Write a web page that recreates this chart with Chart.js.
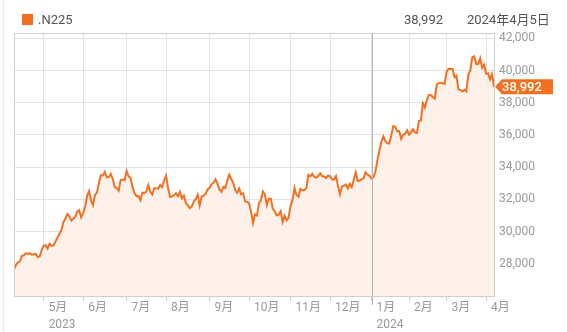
<!DOCTYPE html>
<html>
<head>
<meta charset="utf-8">
<script src="https://cdn.jsdelivr.net/npm/chart.js@4.4.1/dist/chart.umd.min.js"></script>
<style>
  html, body { margin: 0; padding: 0; background: #ffffff; }
  #wrap { position: relative; width: 567px; height: 332px; overflow: hidden; font-family: Roboto, "Noto Sans CJK JP", sans-serif; }
  #frame { position: absolute; left: 3px; top: 0; width: 0; height: 332px; border-left: 1px solid #ececec; }
  canvas { position: absolute; left: 0; top: 0; }
  .hdr { position: absolute; font-size: 13px; color: #555555; line-height: 16px; white-space: nowrap; }
  #sq { position: absolute; left: 22px; top: 14px; width: 11px; height: 11px; background: #f37021; }
</style>
</head>
<body>
<div id="wrap">
  <div id="frame"></div>
  <canvas id="c" width="567" height="332"></canvas>
  <div id="sq"></div>
  <div class="hdr" id="name" style="left:38px; top:12px;"></div>
  <div class="hdr" id="lastv" style="right:124px; top:12px;"></div>
  <div class="hdr" id="date" style="left:467px; top:12px;"></div>
</div>
<script>
// ---- data (trading-day closes) ----
const seriesName = '.N225';
const asOfDate = '2024年4月5日';
const apr2023 = [27633, 27923, 28082, 28157, 28493, 28515, 28658, 28606, 28657, 28564, 28593, 28620, 28416, 28457, 28856];
const may2023 = [29123, 29158, 28950, 29243, 29122, 29127, 29388, 29626, 29843, 30094, 30574, 30808, 31087, 30958, 30683, 30801, 30916, 31234, 31328, 30888];
const jun2023 = [31148, 31524, 32217, 32507, 31914, 31641, 32265, 32434, 33018, 33502, 33485, 33706, 33370, 33389, 33575, 33265, 32782, 32699, 32538, 33194, 33234, 33189];
const jul2023 = [33753, 33423, 33338, 32773, 32388, 32190, 32204, 31944, 32420, 32392, 32493, 32896, 32491, 32305, 32701, 32682, 32669, 32891, 32759, 33172];
const aug2023 = [33476, 32708, 32159, 32193, 32254, 32377, 32205, 32474, 32060, 32239, 31767, 31627, 31451, 31566, 31857, 32011, 32288, 31625, 32170, 32227, 32334, 32619];
const sep2023 = [32711, 32940, 33036, 33242, 32992, 32607, 32467, 32776, 32707, 33169, 33534, 33243, 33024, 32572, 32403, 32679, 32316, 32372, 31873, 31858];
const oct2023 = [31760, 31238, 30527, 31075, 30995, 31747, 31937, 32495, 32316, 31660, 32041, 32043, 31431, 31260, 30999, 31063, 31270, 30601, 30992, 30697, 30859];
const nov2023 = [31602, 31950, 32709, 32272, 32166, 32647, 32568, 32586, 32696, 33520, 33425, 33586, 33389, 33355, 33452, 33626, 33448, 33409, 33322, 33487];
const dec2023 = [33432, 33231, 33232, 33446, 32858, 32308, 32792, 32844, 32927, 32686, 32971, 32759, 33220, 33676, 33141, 33169, 33254, 33306, 33681, 33540, 33464];
const jan2024 = [33288, 33377, 33763, 34441, 35050, 35577, 35902, 35620, 35478, 35467, 35964, 36547, 36518, 36227, 36237, 35752, 36027, 36066, 36287];
const feb2024 = [36012, 36158, 36355, 36161, 36120, 36864, 36898, 37964, 37704, 38158, 38488, 38471, 38364, 38263, 39099, 39234, 39240, 39209, 39166];
const mar2024 = [39911, 40110, 40098, 40091, 39599, 39689, 38821, 38798, 38696, 38808, 38708, 39741, 40004, 40816, 40889, 40415, 40399, 40763, 40168, 40369];
const apr2024 = [39803, 39838, 39452, 39773, 38992];

const monthLabels = ['5月', '6月', '7月', '8月', '9月', '10月', '11月', '12月', '1月', '2月', '3月', '4月'];
const yearLabels = { '5月': '2023', '1月': '2024' };
const yTicks = [28000, 30000, 32000, 34000, 36000, 38000, 40000, 42000];
const yRange = [26000, 42330];

// ---- build table ----
const months = [apr2023, may2023, jun2023, jul2023, aug2023, sep2023, oct2023, nov2023, dec2023, jan2024, feb2024, mar2024, apr2024];
const values = [].concat(...months);
const points = values.map((v, i) => ({ x: i, y: v }));
const monthStarts = [];
{ let n = 0; for (let m = 0; m < months.length - 1; m++) { n += months[m].length; monthStarts.push(n); } }
const tickLabelAt = {};
monthStarts.forEach((idx, k) => {
  const m = monthLabels[k];
  tickLabelAt[idx] = yearLabels[m] ? [m, yearLabels[m]] : [m];
});
const yearBoundary = monthStarts[monthLabels.indexOf('1月')];
const lastValue = values[values.length - 1];
const fmt = v => v.toLocaleString('en-US');

document.getElementById('name').textContent = seriesName;
document.getElementById('lastv').textContent = fmt(lastValue);
document.getElementById('date').textContent = asOfDate;

const ORANGE = '#f37021';
Chart.defaults.font.family = 'Roboto, "Noto Sans CJK JP", sans-serif';

const overlay = {
  id: 'overlay',
  afterDatasetsDraw(chart) {
    const { ctx, chartArea: a, scales } = chart;
    ctx.save();
    // year boundary line
    const xb = Math.round(scales.x.getPixelForValue(yearBoundary)) + 0.5;
    ctx.strokeStyle = '#b4b4b4';
    ctx.lineWidth = 1;
    ctx.beginPath(); ctx.moveTo(xb, a.top); ctx.lineTo(xb, a.bottom + 9); ctx.stroke();
    // plot frame
    ctx.strokeStyle = '#cfcfcf';
    ctx.strokeRect(Math.round(a.left) + 0.5, Math.round(a.top) + 0.5, Math.round(a.right - a.left), Math.round(a.bottom - a.top));
    // last value badge
    const y = scales.y.getPixelForValue(lastValue);
    const x0 = a.right + 1;
    ctx.fillStyle = ORANGE;
    ctx.beginPath();
    ctx.moveTo(x0, y);
    ctx.lineTo(x0 + 7, y - 7.5);
    ctx.lineTo(553, y - 7.5);
    ctx.lineTo(553, y + 7.5);
    ctx.lineTo(x0 + 7, y + 7.5);
    ctx.closePath();
    ctx.fill();
    ctx.fillStyle = '#ffffff';
    ctx.font = '500 13px Roboto, sans-serif';
    ctx.textBaseline = 'middle';
    ctx.textAlign = 'left';
    ctx.fillText(fmt(lastValue), x0 + 7, y + 0.5);
    ctx.restore();
  }
};

new Chart(document.getElementById('c'), {
  type: 'line',
  data: {
    datasets: [{
      label: seriesName,
      data: points,
      borderColor: ORANGE,
      borderWidth: 2,
      backgroundColor: '#fef1e9',
      fill: 'start',
      pointRadius: 0,
      tension: 0
    }]
  },
  options: {
    responsive: false,
    animation: false,
    devicePixelRatio: 1,
    layout: { padding: { left: 14, top: 33, right: 0, bottom: 0 } },
    plugins: { legend: { display: false }, tooltip: { enabled: false } },
    scales: {
      x: {
        type: 'linear',
        position: 'bottom',
        min: 0,
        max: values.length - 1,
        afterBuildTicks: s => { s.ticks = monthStarts.map(v => ({ value: v })); },
        afterFit: s => { s.height = 36; },
        border: { display: false },
        grid: {
          color: '#e3e3e3',
          tickColor: '#cccccc',
          tickLength: 5,
          drawTicks: true
        },
        ticks: {
          autoSkip: false,
          maxRotation: 0,
          minRotation: 0,
          align: 'start',
          labelOffset: 5,
          padding: -1,
          color: '#9a9a9a',
          font: { size: 12, lineHeight: 1.4 },
          callback: v => tickLabelAt[v] || ''
        }
      },
      y: {
        type: 'linear',
        position: 'right',
        min: yRange[0],
        max: yRange[1],
        afterBuildTicks: s => { s.ticks = yTicks.map(v => ({ value: v })); },
        afterFit: s => { s.width = 73; },
        border: { display: false },
        grid: { color: '#e3e3e3', drawTicks: false },
        ticks: {
          padding: 5,
          color: '#9a9a9a',
          font: { size: 12 },
          callback: v => fmt(v)
        }
      }
    }
  },
  plugins: [overlay]
});
</script>
</body>
</html>
